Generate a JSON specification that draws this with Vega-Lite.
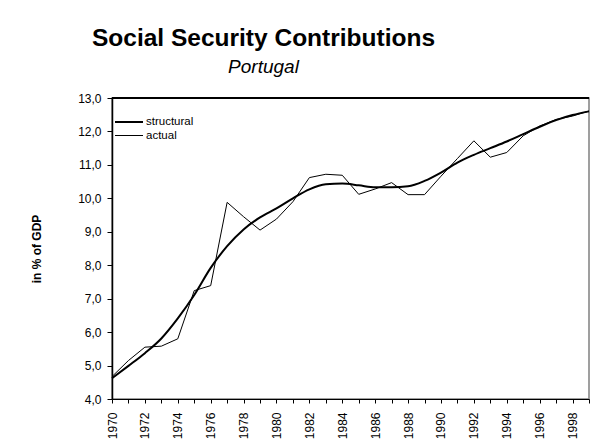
{
  "$schema": "https://vega.github.io/schema/vega-lite/v6.json",
  "width": 477,
  "height": 301,
  "autosize": {"type": "none"},
  "padding": {"left": 112, "top": 98, "right": 15, "bottom": 46},
  "background": "white",
  "config": {
    "font": "Liberation Sans",
    "view": {"stroke": "#808080", "strokeWidth": 1.5},
    "axis": {"domainColor": "black", "tickColor": "black", "labelColor": "black", "titleColor": "black", "grid": false, "labelFont": "Liberation Sans", "titleFont": "Liberation Sans"}
  },
  "title": {
    "text": "Social Security Contributions",
    "subtitle": "Portugal",
    "font": "Liberation Sans",
    "fontSize": 24.5,
    "fontWeight": "bold",
    "color": "black",
    "subtitleFont": "Liberation Sans",
    "subtitleFontSize": 19,
    "subtitleFontStyle": "italic",
    "subtitleColor": "black",
    "subtitlePadding": 7,
    "anchor": "middle",
    "dx": -87,
    "offset": 14
  },
  "datasets": {
    "series": [
      {"year": 1970, "value": 4.62, "series": "structural"},
      {"year": 1971, "value": 4.99, "series": "structural"},
      {"year": 1972, "value": 5.37, "series": "structural"},
      {"year": 1973, "value": 5.81, "series": "structural"},
      {"year": 1974, "value": 6.41, "series": "structural"},
      {"year": 1975, "value": 7.11, "series": "structural"},
      {"year": 1976, "value": 7.92, "series": "structural"},
      {"year": 1977, "value": 8.57, "series": "structural"},
      {"year": 1978, "value": 9.07, "series": "structural"},
      {"year": 1979, "value": 9.43, "series": "structural"},
      {"year": 1980, "value": 9.70, "series": "structural"},
      {"year": 1981, "value": 10.0, "series": "structural"},
      {"year": 1982, "value": 10.27, "series": "structural"},
      {"year": 1983, "value": 10.42, "series": "structural"},
      {"year": 1984, "value": 10.44, "series": "structural"},
      {"year": 1985, "value": 10.39, "series": "structural"},
      {"year": 1986, "value": 10.33, "series": "structural"},
      {"year": 1987, "value": 10.33, "series": "structural"},
      {"year": 1988, "value": 10.36, "series": "structural"},
      {"year": 1989, "value": 10.52, "series": "structural"},
      {"year": 1990, "value": 10.77, "series": "structural"},
      {"year": 1991, "value": 11.07, "series": "structural"},
      {"year": 1992, "value": 11.30, "series": "structural"},
      {"year": 1993, "value": 11.50, "series": "structural"},
      {"year": 1994, "value": 11.70, "series": "structural"},
      {"year": 1995, "value": 11.92, "series": "structural"},
      {"year": 1996, "value": 12.14, "series": "structural"},
      {"year": 1997, "value": 12.34, "series": "structural"},
      {"year": 1998, "value": 12.49, "series": "structural"},
      {"year": 1999, "value": 12.60, "series": "structural"},
      {"year": 1970, "value": 4.67, "series": "actual"},
      {"year": 1971, "value": 5.15, "series": "actual"},
      {"year": 1972, "value": 5.55, "series": "actual"},
      {"year": 1973, "value": 5.58, "series": "actual"},
      {"year": 1974, "value": 5.80, "series": "actual"},
      {"year": 1975, "value": 7.24, "series": "actual"},
      {"year": 1976, "value": 7.39, "series": "actual"},
      {"year": 1977, "value": 9.88, "series": "actual"},
      {"year": 1978, "value": 9.45, "series": "actual"},
      {"year": 1979, "value": 9.05, "series": "actual"},
      {"year": 1980, "value": 9.38, "series": "actual"},
      {"year": 1981, "value": 9.90, "series": "actual"},
      {"year": 1982, "value": 10.62, "series": "actual"},
      {"year": 1983, "value": 10.72, "series": "actual"},
      {"year": 1984, "value": 10.69, "series": "actual"},
      {"year": 1985, "value": 10.12, "series": "actual"},
      {"year": 1986, "value": 10.28, "series": "actual"},
      {"year": 1987, "value": 10.47, "series": "actual"},
      {"year": 1988, "value": 10.11, "series": "actual"},
      {"year": 1989, "value": 10.11, "series": "actual"},
      {"year": 1990, "value": 10.66, "series": "actual"},
      {"year": 1991, "value": 11.19, "series": "actual"},
      {"year": 1992, "value": 11.72, "series": "actual"},
      {"year": 1993, "value": 11.23, "series": "actual"},
      {"year": 1994, "value": 11.37, "series": "actual"},
      {"year": 1995, "value": 11.87, "series": "actual"},
      {"year": 1996, "value": 12.16, "series": "actual"},
      {"year": 1997, "value": 12.36, "series": "actual"},
      {"year": 1998, "value": 12.46, "series": "actual"},
      {"year": 1999, "value": 12.61, "series": "actual"}
    ]
  },
  "data": {"name": "series"},
  "encoding": {
    "x": {
      "field": "year",
      "type": "quantitative",
      "scale": {"domain": [1970, 1999], "nice": false, "zero": false},
      "axis": {
        "title": null,
        "values": [1970,1971,1972,1973,1974,1975,1976,1977,1978,1979,1980,1981,1982,1983,1984,1985,1986,1987,1988,1989,1990,1991,1992,1993,1994,1995,1996,1997,1998,1999],
        "labelExpr": "datum.value % 2 == 0 ? format(datum.value, 'd') : ''",
        "labelAngle": -90,
        "labelAlign": "right",
        "labelBaseline": "middle",
        "labelFontSize": 12,
        "labelPadding": 9,
        "tickSize": 4,
        "domainWidth": 1.2,
        "tickWidth": 1,
        "labelOverlap": false,
        "labelBound": false,
        "labelFlush": false
      }
    },
    "y": {
      "field": "value",
      "type": "quantitative",
      "scale": {"domain": [4, 13], "nice": false, "zero": false},
      "axis": {
        "title": "in % of GDP",
        "titleFontSize": 12,
        "titleFontWeight": "bold",
        "titlePadding": 34,
        "values": [4,5,6,7,8,9,10,11,12,13],
        "labelExpr": "replace(format(datum.value, '.1f'), '.', ',')",
        "labelFontSize": 12,
        "labelPadding": 6,
        "tickSize": 5,
        "domainWidth": 1.5,
        "tickWidth": 1
      }
    },
    "color": {
      "field": "series",
      "type": "nominal",
      "scale": {"domain": ["structural", "actual"], "range": ["black", "black"]},
      "legend": {
        "title": null,
        "orient": "none",
        "legendX": 9,
        "legendY": 16,
        "symbolType": "M-2,0H2",
        "symbolSize": 196,
        "symbolFillColor": "transparent",
        "labelFontSize": 11.5,
        "labelOffset": 9,
        "rowPadding": 0,
        "padding": 0
      }
    },
    "strokeWidth": {
      "field": "series",
      "type": "nominal",
      "scale": {"domain": ["structural", "actual"], "range": [2, 1]},
      "legend": {
        "title": null,
        "orient": "none",
        "legendX": 9,
        "legendY": 16,
        "symbolType": "M-2,0H2",
        "symbolSize": 196,
        "symbolFillColor": "transparent",
        "labelFontSize": 11.5,
        "labelOffset": 9,
        "rowPadding": 0,
        "padding": 0
      }
    }
  },
  "layer": [
    {
      "transform": [{"filter": "datum.series == 'actual'"}],
      "mark": {"type": "line", "interpolate": "linear"}
    },
    {
      "transform": [{"filter": "datum.series == 'structural'"}],
      "mark": {"type": "line", "interpolate": "monotone"}
    },
    {
      "mark": {"type": "rule", "color": "black", "strokeWidth": 1.2},
      "encoding": {"y": {"datum": 13}, "x": null, "color": null, "strokeWidth": null}
    }
  ]
}
